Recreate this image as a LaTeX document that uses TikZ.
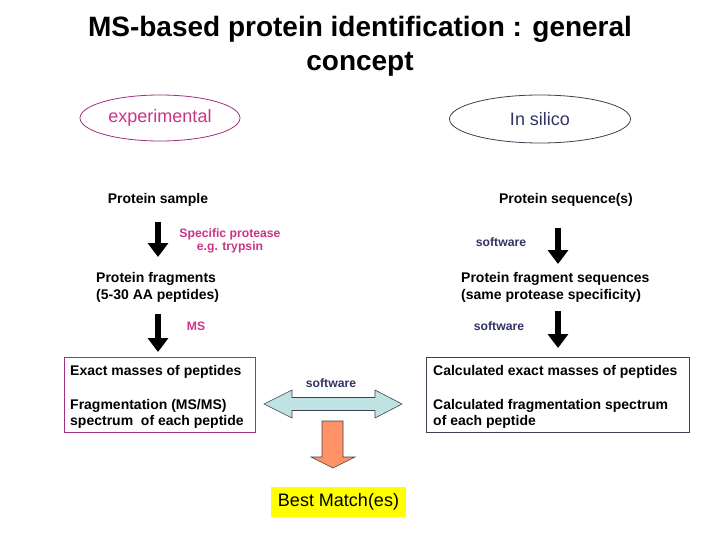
\documentclass[tikz,border=0pt]{standalone}
\usepackage{fontspec}
\setmainfont{Liberation Sans}
\usetikzlibrary{arrows.meta,shapes.geometric}
\definecolor{mag}{HTML}{CC3388}
\definecolor{magline}{HTML}{A03080}
\definecolor{navy}{HTML}{333366}
\definecolor{darkline}{HTML}{404050}
\definecolor{lcyan}{HTML}{BFE3E3}
\definecolor{orng}{HTML}{FF9266}
\definecolor{yel}{HTML}{FFFF00}
\tikzset{
  body/.style={font=\fontsize{14}{16}\selectfont\bfseries, inner sep=0pt, align=left, yshift=-1.5pt},
  small/.style={font=\fontsize{12.2}{13}\selectfont\bfseries, inner sep=0pt, align=center, yshift=-1pt},
  blkarrow/.style={line width=5.5pt, -{Triangle[width=20pt,length=14pt]}},
  oval/.style={ellipse, line width=0.8pt, font=\fontsize{18}{20}\selectfont},
  blockshape/.style={draw=darkline, line width=0.6pt},
}
\begin{document}
\begin{tikzpicture}[x=1pt,y=-1pt]
\useasboundingbox[fill=white] (0,0) rectangle (720,540);

% title
\node[font=\fontsize{28}{34}\selectfont\bfseries, align=center] (title) at (360,46)
  {MS-based protein identification : general\\concept};

% ellipses
\node[oval, draw=magline, text=mag, minimum width=160pt, minimum height=46pt] (exp) at (160,118) {\raisebox{-1.5pt}{experimental}};
\node[oval, draw=darkline, text=navy, minimum width=181pt, minimum height=48pt] (sil) at (540,119) {In silico};

% left column
\node[body, align=center] (psample) at (158,198) {Protein sample};
\coordinate (la1s) at (158,222);
\coordinate (la1e) at (158,257);
\draw[blkarrow] (la1s) -- (la1e);
\node[small, text=mag] (prot) at (230,240) {Specific protease\\e.g. trypsin};
\node[body, anchor=west] (pfrag1) at (96,277) {Protein fragments};
\node[body, anchor=west] (pfrag2) at (96,294) {(5-30 AA peptides)};
\coordinate (la2s) at (158,314);
\coordinate (la2e) at (158,352);
\draw[blkarrow] (la2s) -- (la2e);
\node[small, text=mag] (ms) at (196,325) {MS};

\node[draw=magline, line width=0.8pt, minimum width=191pt, minimum height=75pt, inner sep=0pt] (lbox) at (159.5,394.5) {};
\node[body, anchor=west] (lt1) at (70,370) {Exact masses of peptides};
\node[body, anchor=west] (lt2) at (70,404) {Fragmentation (MS/MS)};
\node[body, anchor=west] (lt3) at (70,420) {spectrum\ \ of each peptide};

% right column
\node[body, align=center] (pseq) at (566,198) {Protein sequence(s)};
\node[small, text=navy] (sw1) at (501,241) {software};
\coordinate (ra1s) at (558,228);
\coordinate (ra1e) at (558,264);
\draw[blkarrow] (ra1s) -- (ra1e);
\node[body, anchor=west] (rfrag1) at (461,277) {Protein fragment sequences};
\node[body, anchor=west] (rfrag2) at (461,294) {(same protease specificity)};
\node[small, text=navy] (sw2) at (499,325) {software};
\coordinate (ra2s) at (558,311);
\coordinate (ra2e) at (558,348);
\draw[blkarrow] (ra2s) -- (ra2e);

\node[draw=darkline, line width=0.8pt, minimum width=263pt, minimum height=75pt, inner sep=0pt] (rbox) at (557.5,394.5) {};
\node[body, anchor=west] (rt1) at (433,370) {Calculated exact masses of peptides};
\node[body, anchor=west] (rt2) at (433,404) {Calculated fragmentation spectrum};
\node[body, anchor=west] (rt3) at (433,420) {of each peptide};

% centre
\node[small, text=navy] (sw3) at (331,382) {software};
\draw[blockshape, fill=lcyan] (264,404) -- (292,390) -- (292,397.5) -- (375,397.5) -- (375,390)
  -- (402,404) -- (375,418) -- (375,410.5) -- (292,410.5) -- (292,418) -- cycle;
\draw[blockshape, fill=orng] (322,421) -- (343,421) -- (343,457) -- (355,457) -- (333,468)
  -- (311,457) -- (322,457) -- cycle;

\node[fill=yel, minimum width=135pt, minimum height=30pt, inner sep=0pt,
  font=\fontsize{18}{20}\selectfont] (best) at (338.5,502) {Best Match(es)};
\end{tikzpicture}
\end{document}
